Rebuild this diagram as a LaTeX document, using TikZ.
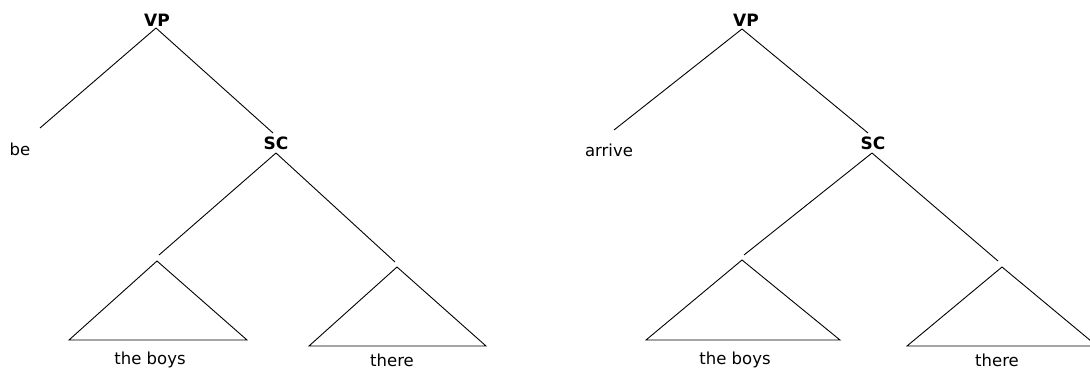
\documentclass[tikz,border=0pt]{standalone}
\usepackage{fontspec}
\setmainfont{DejaVu Sans}
\begin{document}
\begin{tikzpicture}[x=1pt,y=-1pt,
  cat/.style={font=\fontsize{17}{20}\selectfont\bfseries,inner sep=0pt,anchor=base},
  word/.style={font=\fontsize{16.5}{19}\selectfont,inner sep=0pt,anchor=base},
  branch/.style={line width=0.9pt,black},
  tri/.style={line width=0.9pt,black,line join=miter}]
\useasboundingbox (0,0) rectangle (1090,369);
% ---------- left tree ----------
\node[cat] (vpA) at (157,27) {VP};
\coordinate (vpAa) at (156,28);
\coordinate (beEnd) at (40,128);
\node[word] (be) at (20,155) {be};
\coordinate (scAtop) at (273,133);
\node[cat] (scA) at (276,149) {SC};
\coordinate (scAa) at (276,153);
\coordinate (scAl) at (159,255);
\coordinate (scAr) at (395,262);
\draw[branch] (vpAa) -- (beEnd);
\draw[branch] (vpAa) -- (scAtop);
\draw[branch] (scAa) -- (scAl);
\draw[branch] (scAa) -- (scAr);
\coordinate (t1a) at (157,261);
\coordinate (t1l) at (69,340);
\coordinate (t1r) at (247,340);
\draw[tri] (t1a) -- (t1l) -- (t1r) -- cycle;
\node[word] (boysA) at (150,364) {the boys};
\coordinate (t2a) at (397,267);
\coordinate (t2l) at (309,346);
\coordinate (t2r) at (486,346);
\draw[tri] (t2a) -- (t2l) -- (t2r) -- cycle;
\node[word] (thereA) at (392,366) {there};
% ---------- right tree ----------
\node[cat] (vpB) at (746,27) {VP};
\coordinate (vpBa) at (742,29);
\coordinate (arrEnd) at (614,130);
\node[word] (arrive) at (609,156) {arrive};
\coordinate (scBtop) at (868,133);
\node[cat] (scB) at (873,149) {SC};
\coordinate (scBa) at (872,153);
\coordinate (scBl) at (744,255);
\coordinate (scBr) at (998,261);
\draw[branch] (vpBa) -- (arrEnd);
\draw[branch] (vpBa) -- (scBtop);
\draw[branch] (scBa) -- (scBl);
\draw[branch] (scBa) -- (scBr);
\coordinate (t3a) at (742,260);
\coordinate (t3l) at (646,340);
\coordinate (t3r) at (840,340);
\draw[tri] (t3a) -- (t3l) -- (t3r) -- cycle;
\node[word] (boysB) at (735,364) {the boys};
\coordinate (t4a) at (1002,267);
\coordinate (t4l) at (907,346);
\coordinate (t4r) at (1097,346);
\draw[tri] (t4a) -- (t4l) -- (t4r) -- cycle;
\node[word] (thereB) at (997,366) {there};
\end{tikzpicture}
\end{document}
